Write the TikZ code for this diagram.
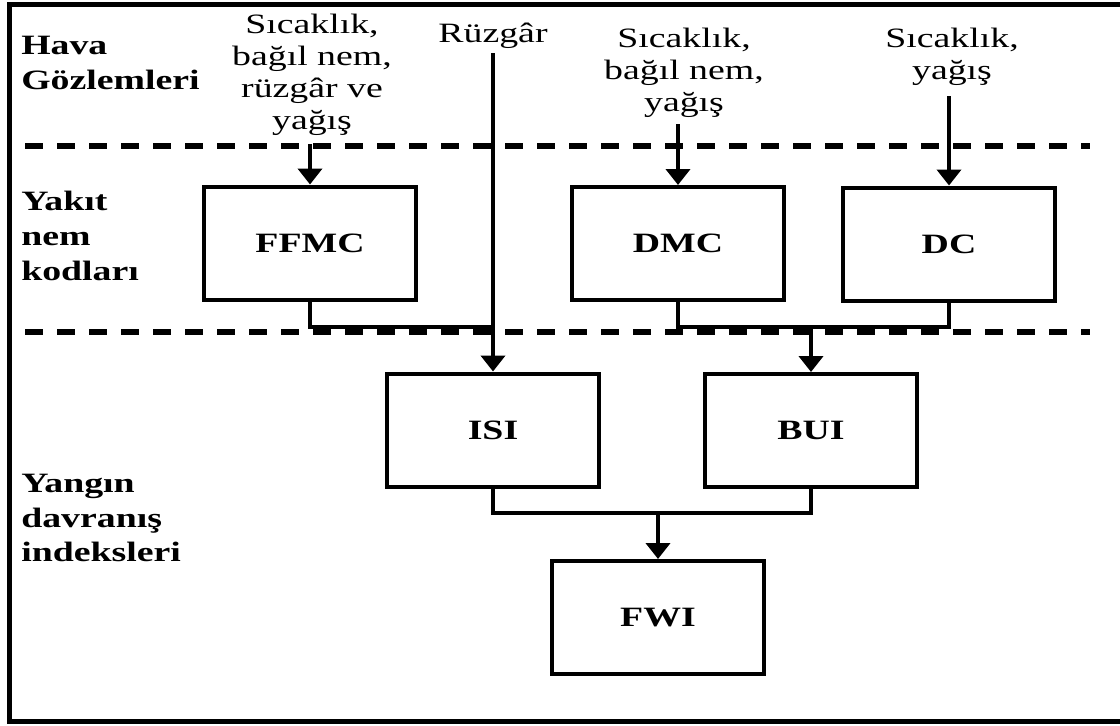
\documentclass[tikz,border=0pt]{standalone}
\usepackage{fontspec}
\setmainfont{Liberation Serif}[FakeStretch=1.35]
\usetikzlibrary{arrows.meta}

\tikzset{
  kutu/.style = {draw, line width=3pt, minimum width=159pt, minimum height=84.75pt, inner sep=0pt, font=\fontsize{21}{26}\selectfont\bfseries},
  girdi/.style = {align=center, inner sep=0pt, anchor=north, font=\fontsize{21}{24}\selectfont},
  baslik/.style = {align=left, inner sep=0pt, anchor=north west, font=\fontsize{21}{26}\selectfont\bfseries},
  ok/.style = {line width=3pt, -{Triangle[width=18pt, length=12pt]}},
  hat/.style = {line width=2.5pt},
  ayrac/.style = {line width=4pt, dash pattern=on 13.5pt off 10.5pt}
}

\begin{document}
\begin{tikzpicture}[x=0.75pt, y=-0.75pt]
    \useasboundingbox (0,0) rectangle (1120,725);
    \fill[white] (0,0) rectangle (1120,725);
    \draw[line width=3.75pt] (9,4.5) rectangle (1123,721.5); % çerçeve

    % bölüm ayraçları
    \draw[ayrac] (25,146) -- (1090,146);
    \draw[ayrac] (25,332) -- (1090,332);

    % sol başlıklar
    \node[baslik] (hava) at (21,36) {Hava\\Gözlemleri};
    \node[baslik] (yakit) at (21,191) {Yakıt\\nem\\kodları};
    \node[baslik] (yangin) at (21,474) {Yangın\\davranış\\indeksleri};

    % kodlar ve indeksler
    \node[kutu] (ffmc) at (310,243) {FFMC};
    \node[kutu] (dmc) at (678,243.5) {DMC};
    \node[kutu] (dc) at (949,244) {DC};
    \node[kutu] (isi) at (493,430) {ISI};
    \node[kutu] (bui) at (811,430.5) {BUI};
    \node[kutu] (fwi) at (658,617.5) {FWI};

    % gözlemler
    \node[girdi] (g1) at (312,14) {Sıcaklık,\\bağıl nem,\\rüzgâr ve\\yağış};
    \node[girdi] (g2) at (493,23) {Rüzgâr};
    \node[girdi] (g3) at (684,28) {Sıcaklık,\\bağıl nem,\\yağış};
    \node[girdi] (g4) at (952,28) {Sıcaklık,\\yağış};

    \draw[ok] ([yshift=-6pt]ffmc.north |- g1.south) -- (ffmc.north);
    \draw[ok] ([yshift=-3pt]g2.south) -- (isi.north);
    \draw[ok] ([yshift=-4.5pt]dmc.north |- g3.south) -- (dmc.north);
    \draw[ok] ([yshift=-7.5pt]dc.north |- g4.south) -- (dc.north);

    % birleşmeler
    \coordinate (j1) at (493,327);
    \coordinate (j2) at (811,327);
    \coordinate (j3) at (658,513);
    \draw[hat] (ffmc.south) |- (j1);
    \draw[hat] (dmc.south) |- (j2) -| (dc.south);
    \draw[ok] (j2) -- (bui.north);
    \draw[hat] (isi.south) |- (j3) -| (bui.south);
    \draw[ok] (j3) -- (fwi.north);
\end{tikzpicture}
\end{document}
